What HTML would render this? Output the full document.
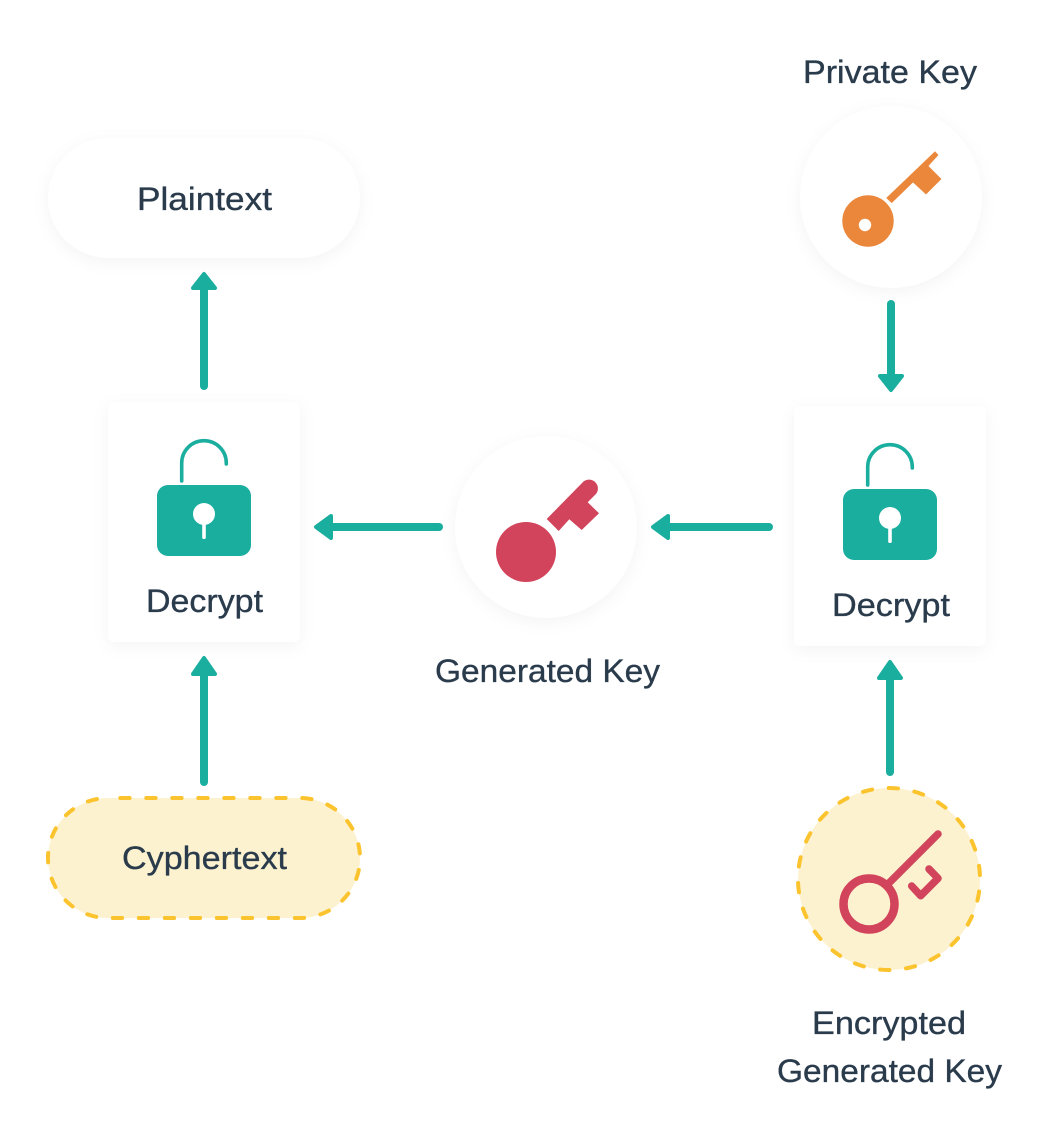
<!DOCTYPE html>
<html>
<head>
<meta charset="utf-8">
<style>
html,body{margin:0;padding:0;background:#fff;width:1052px;height:1142px;overflow:hidden}
svg{display:block}
text{font-family:"Liberation Sans",sans-serif;font-size:32px;fill:#2a3b4c;stroke:#2a3b4c;stroke-width:.35px}
.s{filter:drop-shadow(0 4px 8px rgba(0,0,0,.045))}
</style>
</head>
<body>
<svg width="1052" height="1142" viewBox="0 0 1052 1142" xmlns="http://www.w3.org/2000/svg">
<rect width="1052" height="1142" fill="#fff"/>

<!-- Containers -->
<rect class="s" x="48" y="138" width="312" height="120" rx="60" fill="#fff"/>
<rect class="s" x="108" y="402" width="192" height="240" rx="6" fill="#fff"/>
<rect class="s" x="794" y="406" width="192" height="240" rx="6" fill="#fff"/>
<circle class="s" cx="891" cy="197" r="91" fill="#fff"/>
<circle class="s" cx="546" cy="527" r="91" fill="#fff"/>
<path d="M108 798H300A60 60 0 0 1 300 918H108A60 60 0 0 1 108 798Z" fill="#fdf2d0" stroke="#fbc32d" stroke-width="4" stroke-linecap="round" stroke-dasharray="9.300 16.700" stroke-dashoffset="-12.300"/>
<circle cx="889" cy="879" r="91" fill="#fdf2d0" stroke="#fbc32d" stroke-width="4" stroke-linecap="round" stroke-dasharray="9.300 16.690" stroke-dashoffset="-12.500"/>

<!-- Arrows -->
<g stroke="#1aae9f" fill="#1aae9f" stroke-linecap="round" stroke-linejoin="round">
<path d="M204 386V285" stroke-width="8" fill="none"/>
<path d="M193 288L204 274L215 288Z" stroke-width="4"/>
<path d="M204 782V669" stroke-width="8" fill="none"/>
<path d="M193 674L204 658L215 674Z" stroke-width="4"/>
<path d="M890 772V673" stroke-width="8" fill="none"/>
<path d="M879 678L890 662L901 678Z" stroke-width="4"/>
<path d="M891 304V378" stroke-width="8" fill="none"/>
<path d="M880 376L891 390L902 376Z" stroke-width="4"/>
<path d="M439 527H328" stroke-width="8" fill="none"/>
<path d="M331 516L316 527L331 538Z" stroke-width="4"/>
<path d="M769 527H665" stroke-width="8" fill="none"/>
<path d="M668 516L653 527L668 538Z" stroke-width="4"/>
</g>

<!-- Orange key -->
<circle cx="868" cy="221" r="25.7" fill="#ea873b"/>
<circle cx="865" cy="225" r="6.2" fill="#fff"/>
<path d="M886.700 198L935 151.700L938 155L928 166L941 179L926 194L913 182L891.700 202.700Z" fill="#ea873b" stroke="#ea873b" stroke-width=".6" stroke-linejoin="round"/>

<!-- Red key -->
<circle cx="526" cy="552" r="30" fill="#d2445b"/>
<path d="M546.700 519L583.500 481.500A8.900 8.900 0 0 1 596 494L587.700 502.300L599 513.300L581.700 530L569.300 519.300L558.700 531Z" fill="#d2445b"/>

<!-- Outlined red key -->
<circle cx="869" cy="904" r="25.500" fill="none" stroke="#d2445b" stroke-width="8.500"/>
<path d="M888 884L938 834" stroke="#d2445b" stroke-width="7.500" stroke-linecap="round" fill="none"/>
<path d="M911.700 886L920.700 895.700L938 878.300L929 869" stroke="#d2445b" stroke-width="7.500" stroke-linecap="round" stroke-linejoin="round" fill="none"/>

<!-- Lock 1 -->
<g>
<path d="M181.700 481V463A22.300 22.300 0 0 1 226.300 463V464" fill="none" stroke="#1aae9f" stroke-width="3.600" stroke-linecap="round"/>
<rect x="157" y="485" width="94" height="71" rx="11" fill="#1aae9f"/>
<circle cx="204" cy="514" r="11" fill="#fff"/>
<rect x="202.200" y="518" width="3.600" height="21" rx="1.500" fill="#fff"/>
</g>
<!-- Lock 2 -->
<g transform="translate(686 4)">
<path d="M181.700 481V463A22.300 22.300 0 0 1 226.300 463V464" fill="none" stroke="#1aae9f" stroke-width="3.600" stroke-linecap="round"/>
<rect x="157" y="485" width="94" height="71" rx="11" fill="#1aae9f"/>
<circle cx="204" cy="514" r="11" fill="#fff"/>
<rect x="202.200" y="518" width="3.600" height="21" rx="1.500" fill="#fff"/>
</g>

<!-- Labels -->
<text x="803" y="83" textLength="174" lengthAdjust="spacingAndGlyphs">Private Key</text>
<text x="137" y="210" textLength="135" lengthAdjust="spacingAndGlyphs">Plaintext</text>
<text x="146" y="612" textLength="117" lengthAdjust="spacingAndGlyphs">Decrypt</text>
<text x="832" y="616" textLength="118" lengthAdjust="spacingAndGlyphs">Decrypt</text>
<text x="435" y="682" textLength="225" lengthAdjust="spacingAndGlyphs">Generated Key</text>
<text x="122" y="869" textLength="165" lengthAdjust="spacingAndGlyphs">Cyphertext</text>
<text x="812" y="1034" textLength="154" lengthAdjust="spacingAndGlyphs">Encrypted</text>
<text x="777" y="1082" textLength="225" lengthAdjust="spacingAndGlyphs">Generated Key</text>
</svg>
</body>
</html>
